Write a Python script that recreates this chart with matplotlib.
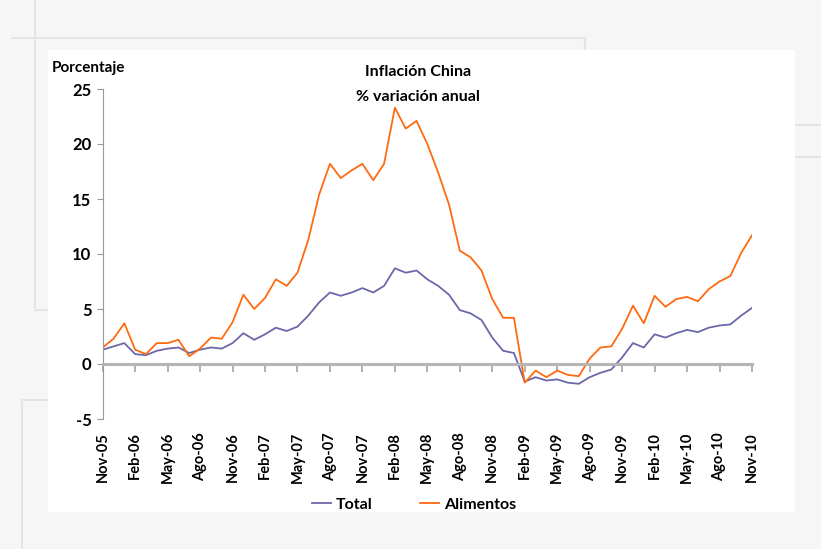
import matplotlib.pyplot as plt
from matplotlib.patches import Rectangle
from matplotlib.lines import Line2D

plt.rcParams['font.family'] = ['Lato', 'DejaVu Sans']

# datos mensuales, Nov-05 a Nov-10 (% variación anual)
meses = ["Nov-05", "Dic-05",
         "Ene-06", "Feb-06", "Mar-06", "Abr-06", "May-06", "Jun-06", "Jul-06", "Ago-06", "Sep-06", "Oct-06", "Nov-06", "Dic-06",
         "Ene-07", "Feb-07", "Mar-07", "Abr-07", "May-07", "Jun-07", "Jul-07", "Ago-07", "Sep-07", "Oct-07", "Nov-07", "Dic-07",
         "Ene-08", "Feb-08", "Mar-08", "Abr-08", "May-08", "Jun-08", "Jul-08", "Ago-08", "Sep-08", "Oct-08", "Nov-08", "Dic-08",
         "Ene-09", "Feb-09", "Mar-09", "Abr-09", "May-09", "Jun-09", "Jul-09", "Ago-09", "Sep-09", "Oct-09", "Nov-09", "Dic-09",
         "Ene-10", "Feb-10", "Mar-10", "Abr-10", "May-10", "Jun-10", "Jul-10", "Ago-10", "Sep-10", "Oct-10", "Nov-10"]

total = [1.3, 1.6,
         1.9, 0.9, 0.8, 1.2, 1.4, 1.5, 1.0, 1.3, 1.5, 1.4, 1.9, 2.8,
         2.2, 2.7, 3.3, 3.0, 3.4, 4.4, 5.6, 6.5, 6.2, 6.5, 6.9, 6.5,
         7.1, 8.7, 8.3, 8.5, 7.7, 7.1, 6.3, 4.9, 4.6, 4.0, 2.4, 1.2,
         1.0, -1.6, -1.2, -1.5, -1.4, -1.7, -1.8, -1.2, -0.8, -0.5, 0.6, 1.9,
         1.5, 2.7, 2.4, 2.8, 3.1, 2.9, 3.3, 3.5, 3.6, 4.4, 5.1]

alimentos = [1.5, 2.3,
             3.7, 1.3, 0.9, 1.9, 1.9, 2.2, 0.7, 1.4, 2.4, 2.3, 3.8, 6.3,
             5.0, 6.0, 7.7, 7.1, 8.3, 11.3, 15.4, 18.2, 16.9, 17.6, 18.2, 16.7,
             18.2, 23.3, 21.4, 22.1, 20.0, 17.4, 14.5, 10.3, 9.7, 8.5, 5.9, 4.2,
             4.2, -1.7, -0.6, -1.2, -0.6, -1.0, -1.1, 0.5, 1.5, 1.6, 3.2, 5.3,
             3.7, 6.2, 5.2, 5.9, 6.1, 5.7, 6.8, 7.5, 8.0, 10.1, 11.7]

W, H = 821, 549
fig = plt.figure(figsize=(8.21, 5.49), dpi=100)
fig.patch.set_facecolor('#f6f6f6')

# lineas tenues de la diapositiva (en pixeles)
def linea(x0, y0, x1, y1):
    fig.add_artist(Line2D([x0/W, x1/W], [1-y0/H, 1-y1/H], transform=fig.transFigure,
                          color='#e4e4e4', lw=1.5, zorder=0))

linea(12, 38, 585, 38)
linea(585, 38, 585, 50)
linea(35, 0, 35, 310)
linea(35, 310, 48, 310)
linea(22, 400, 48, 400)
linea(22, 400, 22, 549)
linea(795, 125, 821, 125)
linea(795, 157, 821, 157)

# fondo blanco del grafico
fig.patches.append(Rectangle((48/W, 1-512/H), 747/W, 462/H, transform=fig.transFigure,
                             fc='white', ec='none', zorder=1))

ax = fig.add_axes([102.7/W, 1-419/H, (752-102.7)/W, 330/H])
ax.set_facecolor('none')
ax.set_zorder(2)

for s in ['top', 'right']:
    ax.spines[s].set_visible(False)
ax.spines['left'].set_color('#999999')
ax.spines['bottom'].set_position(('data', 0))
ax.spines['bottom'].set_color('#b5b5b5')
ax.spines['bottom'].set_linewidth(2.2)

x = list(range(len(meses)))
ax.plot(x, total, color='#6a68a8', lw=1.3, label='Total')
ax.plot(x, alimentos, color='#ff6a10', lw=1.3, label='Alimentos')

ax.set_xlim(0, len(meses) - 1)
ax.set_ylim(-5, 25)
ax.set_yticks([-5, 0, 5, 10, 15, 20, 25])
ax.set_yticklabels(['-5', '0', '5', '10', '15', '20', '25'], fontweight='bold', fontsize=12)

ax.set_xticks(x[::3])
ax.set_xticklabels(meses[::3], rotation=90, fontweight='bold', fontsize=10.5)

ax.tick_params(axis='y', length=4, color='#999999', pad=4)
ax.tick_params(axis='x', length=6, width=1.3, color='#aaaaaa', pad=43)

fig.text(52/W, 1-68/H, 'Porcentaje', fontweight='bold', fontsize=11, ha='left', va='center', zorder=3)
fig.text(418/W, 1-72/H, 'Inflación China', fontweight='bold', fontsize=11.5, ha='center', va='center', zorder=3)
fig.text(418/W, 1-97/H, '% variación anual', fontweight='bold', fontsize=11.5, ha='center', va='center', zorder=3)

leg = fig.legend(loc='center', bbox_to_anchor=(414/W, 1-505/H), ncol=2, frameon=False,
                 handlelength=1.2, handletextpad=0.3, columnspacing=3.0,
                 prop={'weight': 'bold', 'size': 11.5})
leg.set_zorder(3)

plt.savefig('out.png', dpi=100, facecolor=fig.get_facecolor())
